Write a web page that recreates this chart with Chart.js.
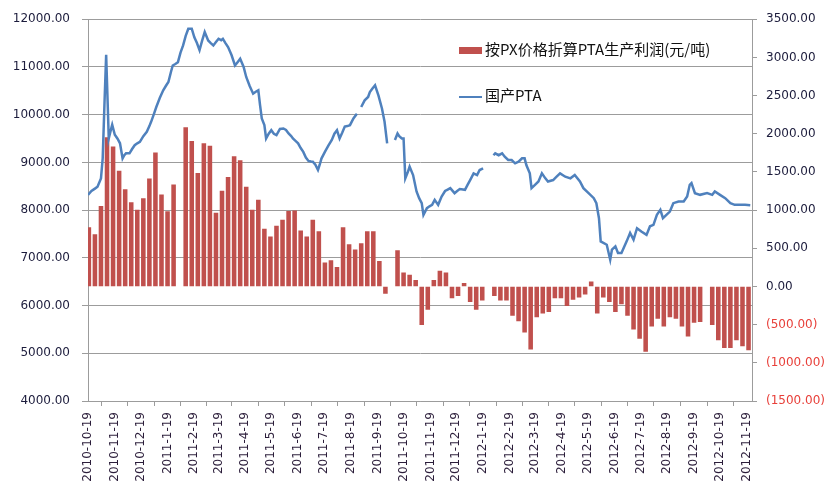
<!DOCTYPE html>
<html>
<head>
<meta charset="utf-8">
<script src="https://cdn.jsdelivr.net/npm/chart.js@4.4.0/dist/chart.umd.min.js"></script>
<style>
  body { margin: 0; background: #fff; }
  #wrap { position: relative; width: 827px; height: 492px; }
  .leg { position: absolute; font: 15px "Noto Sans CJK SC", sans-serif; color: #111; line-height: 18px; white-space: nowrap; }
  .leg i { display: inline-block; vertical-align: middle; width: 23px; margin-right: 3px; }
</style>
</head>
<body>
<div id="wrap">
  <canvas id="ptaChart" width="827" height="492"></canvas>
  <div class="leg" style="left:459px;top:40px"><i style="height:7px;background:#C0504D"></i>按PX价格折算PTA生产利润(元/吨)</div>
  <div class="leg" style="left:459px;top:86px"><i style="height:2px;background:#4F81BD"></i>国产PTA</div>
</div>
<script>
// days are counted from 2010-10-19
const START = Date.UTC(2010, 9, 19);

// 国产PTA price (left axis), null = no quote
const priceDay = [0, 4, 8, 11, 15, 17, 19, 21, 23, 24, 26, 28, 31, 34, 37, 40, 42, 44, 48, 51, 54, 57, 60, 64, 68, 71, 73, 76, 79, 83,
  87, 90, 93, 96, 98, 101, 104, 107, 110, 113, 116, 120, 123, 126, 129, 132, 135, 139, 142, 145, 148, 151, 154, 156, 159, 162, 166, 170, 173, 176,
  180, 183, 187, 191, 194, 197, 199, 201, 204, 206, 209, 212, 215, 218, 222, 226, 229, 232, 235, 237, 240, 243, 246, 249, 252, 255, 258, 260, 263, 266,
  268, 270, 274, 278, 282, 285, 288, 291, 294, 297, 300, 303, 307, 311, 313, 316, 320, 324, 326, 329, 332, 336, 340, 343, 346, 350, 355, 358, 360, 363,
  365, 367, 370, 372, 376, 380, 383, 386, 388, 392, 395, 398, 401, 405, 409, 413, 416, 419, 424, 427, 430, 436, 439, 442, 446, 450, 453, 457, 462, 469,
  471, 475, 479, 482, 486, 490, 494, 498, 502, 505, 507, 511, 513, 517, 521, 525, 529, 532, 538, 542, 546, 552, 558, 563, 569, 573, 579, 585, 588, 591,
  593, 600, 604, 606, 610, 613, 617, 623, 627, 631, 635, 640, 646, 650, 654, 658, 662, 665, 669, 673, 677, 683, 689, 693, 696, 698, 702, 708, 716, 722,
  725, 731, 737, 743, 748, 754, 760, 766];
const price = [8320, 8400, 8450, 8490, 8665, 9085, 10200, 11255, 10100, 9500, 9650, 9790, 9580, 9500, 9400, 9083, 9150, 9190, 9190, 9280, 9360, 9400, 9430, 9550, 9640, 9760, 9850, 10000, 10160, 10350,
  10510, 10600, 10685, 10900, 11030, 11060, 11100, 11300, 11450, 11650, 11800, 11800, 11620, 11500, 11350, 11550, 11730, 11555, 11500, 11450, 11520, 11590, 11560, 11590, 11500, 11415, 11250, 11030, 11100, 11170,
  11000, 10790, 10600, 10440, 10480, 10510, 10200, 9920, 9780, 9500, 9600, 9675, 9600, 9570, 9700, 9710, 9680, 9605, 9550, 9500, 9450, 9400, 9300, 9220, 9100, 9030, 9020, 9015, 8950, 8840,
  8950, 9080, 9220, 9350, 9470, 9600, 9675, 9500, 9620, 9750, 9760, 9780, 9920, 10020, null, 10160, 10300, 10370, 10475, 10550, 10615, 10400, 10130, 9850, 9400, null, 9470, 9605, 9550, 9500,
  9500, 8665, 8800, 8910, 8735, 8390, 8250, 8145, 7900, 8040, 8080, 8110, 8215, 8110, 8285, 8400, 8430, 8460, 8355, 8400, 8440, 8425, 8530, 8630, 8770, 8735, 8840, 8875, null, 9150,
  9190, 9150, 9190, 9120, 9050, 9050, 8980, 9015, 9085, 9085, 8945, 8770, 8460, 8530, 8600, 8770, 8665, 8600, 8630, 8700, 8770, 8700, 8665, 8735, 8600, 8460, 8355, 8250, 8145, 7830,
  7345, 7275, 6960, 7170, 7240, 7100, 7100, 7345, 7520, 7380, 7620, 7550, 7480, 7660, 7690, 7900, 8005, 7830, 7900, 7970, 8145, 8180, 8180, 8285, 8530, 8565, 8355, 8320, 8355, 8320,
  8390, 8320, 8250, 8145, 8110, 8110, 8110, 8100];

// weekly PTA margin from PX (right axis), one value per trading week, null = holiday week
const profit = [770, 680, 1050, 1950, 1830, 1510, 1270, 1100, 1000, 1150,
  1410, 1750, 1200, 980, 1330, null, 2080, 1900, 1480, 1870,
  1840, 960, 1250, 1430, 1700, 1650, 1300, 1000, 1130, 750,
  650, 790, 870, 985, 990, 730, 650, 870, 720, 310,
  340, 250, 770, 550, 480, 560, 720, 720, 330, -90,
  null, 470, 180, 150, 80, -500, -300, 80, 200, 180,
  -150, -120, 40, -200, -300, -180, null, -120, -180, -180,
  -380, -450, -600, -820, -400, -350, -330, -150, -150, -250,
  -170, -140, -100, 60, -350, -140, -200, -330, -230, -380,
  -560, -680, -850, -520, -420, -520, -400, -420, -520, -650,
  -470, -460, null, -500, -700, -800, -800, -700, -780, -830];

const leftTicks = [4000, 5000, 6000, 7000, 8000, 9000, 10000, 11000, 12000];
const rightTicks = [-1500, -1000, -500, 0, 500, 1000, 1500, 2000, 2500, 3000, 3500];

// month ticks on the 19th
const monthTicks = [];
const monthLabels = {};
for (let i = 0; i <= 25; i++) {
  const d = new Date(Date.UTC(2010, 9 + i, 19));
  const day = (d.getTime() - START) / 86400000;
  monthTicks.push(day);
  monthLabels[day] = d.getUTCFullYear() + '-' + (d.getUTCMonth() + 1) + '-' + d.getUTCDate();
}

const tickFont = { family: '"DejaVu Sans", sans-serif', size: 12 };
const gridColor = '#9c9c9c';

new Chart(document.getElementById('ptaChart').getContext('2d'), {
  type: 'bar',
  data: {
    datasets: [{
      type: 'line',
      label: '国产PTA',
      data: price.map((v, i) => ({ x: priceDay[i], y: v })),
      yAxisID: 'y',
      borderColor: '#4F81BD',
      borderWidth: 2.5,
      pointRadius: 0,
      tension: 0,
      spanGaps: false,
      order: 0
    }, {
      type: 'bar',
      label: '按PX价格折算PTA生产利润(元/吨)',
      data: profit.map((v, k) => ({ x: 1 + 7 * k, y: v })),
      yAxisID: 'y1',
      backgroundColor: '#C0504D',
      barThickness: 3.9,
      order: 1
    }]
  },
  options: {
    responsive: false,
    animation: false,
    layout: { padding: { top: 17, left: 0, right: 0, bottom: 0 } },
    plugins: { legend: { display: false }, tooltip: { enabled: false } },
    scales: {
      x: {
        type: 'linear',
        min: 0,
        max: 768,
        offset: false,
        afterBuildTicks: (scale) => { scale.ticks = monthTicks.map(v => ({ value: v })); },
        afterFit: (scale) => { scale.height = 91; },
        ticks: {
          autoSkip: false,
          minRotation: 90,
          maxRotation: 90,
          padding: 6,
          color: '#2b1d3a',
          font: tickFont,
          callback: (v) => monthLabels[v] || ''
        },
        grid: { drawOnChartArea: false, drawTicks: true, tickLength: 5, color: gridColor },
        border: { color: gridColor }
      },
      y: {
        position: 'left',
        min: 4000,
        max: 12000,
        afterBuildTicks: (scale) => { scale.ticks = leftTicks.map(v => ({ value: v })); },
        afterFit: (scale) => { scale.width = 88; },
        ticks: {
          padding: 12,
          color: '#1c1c3c',
          font: tickFont,
          callback: (v) => v.toFixed(2)
        },
        grid: { color: gridColor, tickLength: 6 },
        border: { color: gridColor }
      },
      y1: {
        position: 'right',
        min: -1500,
        max: 3500,
        afterBuildTicks: (scale) => { scale.ticks = rightTicks.map(v => ({ value: v })); },
        afterFit: (scale) => { scale.width = 75; },
        ticks: {
          padding: 9,
          color: (ctx) => ctx.tick.value < 0 ? '#e8403a' : '#1c1c3c',
          font: tickFont,
          callback: (v) => v < 0 ? '(' + Math.abs(v).toFixed(2) + ')' : v.toFixed(2)
        },
        grid: { drawOnChartArea: false, color: gridColor, tickLength: 5 },
        border: { color: gridColor }
      }
    }
  }
});
</script>
</body>
</html>
